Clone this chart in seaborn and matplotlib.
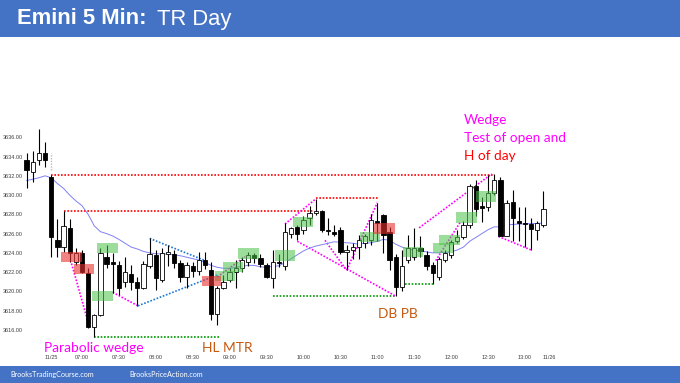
import matplotlib
matplotlib.use("Agg")
import matplotlib.pyplot as plt
from matplotlib.patches import Rectangle
import seaborn as sns
import numpy as np
import pandas as pd

# bar 0 = 06:35 bar of 11/25, negative bars = end of the previous session
bar_idx = list(range(-4, 81))
opens = [3633.6, 3632.4, 3633.6, 3634.4,
         3631.85, 3625.3, 3624.6, 3626.6, 3623.1, 3623.95, 3621.9, 3616.3, 3617.55, 3623.6,
         3623.0, 3622.7, 3621.0, 3621.8, 3621.0, 3620.3, 3622.6, 3623.8, 3621.2, 3623.9,
         3623.9, 3622.9, 3621.5, 3622.6, 3622.1, 3623.3, 3622.2, 3617.6, 3620.3, 3621.2,
         3622.05, 3622.4, 3623.1, 3623.8, 3623.5, 3622.7, 3621.4, 3623.1, 3622.6, 3626.0,
         3626.7, 3626.4, 3627.6, 3628.1, 3628.3, 3626.4, 3626.2, 3626.4, 3624.1, 3624.3,
         3624.6, 3625.0, 3625.3, 3627.3, 3627.9, 3626.2, 3623.6, 3620.5, 3623.3, 3623.6,
         3624.5, 3623.8, 3622.7, 3621.5, 3623.3, 3623.8, 3625.2, 3625.6, 3626.9, 3630.9,
         3628.9, 3628.8, 3630.2, 3631.6, 3625.75, 3629.3, 3627.3, 3627.1, 3627.0, 3626.4, 3626.9]
highs = [3634.4, 3634.6, 3636.9, 3635.5,
         3632.1, 3627.5, 3628.3, 3627.5, 3624.5, 3624.3, 3622.4, 3617.6, 3624.5, 3624.8,
         3623.95, 3623.2, 3623.6, 3622.7, 3621.5, 3623.2, 3625.5, 3624.3, 3624.5, 3624.8,
         3624.3, 3623.3, 3623.1, 3623.0, 3624.1, 3624.1, 3623.0, 3620.6, 3621.7, 3622.4,
         3623.3, 3623.6, 3624.1, 3624.0, 3623.9, 3622.9, 3624.3, 3623.9, 3627.1, 3626.7,
         3626.9, 3627.8, 3628.9, 3629.6, 3628.4, 3627.6, 3626.9, 3626.7, 3624.8, 3625.0,
         3625.9, 3626.0, 3628.0, 3629.2, 3628.0, 3626.7, 3623.9, 3624.3, 3625.9, 3626.6,
         3625.7, 3624.2, 3623.0, 3623.6, 3624.3, 3625.3, 3626.4, 3627.3, 3631.1, 3631.6,
         3629.8, 3632.1, 3632.2, 3631.9, 3629.5, 3630.5, 3628.8, 3628.8, 3627.6, 3627.3, 3630.4]
lows = [3630.7, 3631.4, 3633.1, 3632.9,
        3623.6, 3623.6, 3624.1, 3623.0, 3622.7, 3621.9, 3616.2, 3615.3, 3617.4, 3622.4,
        3619.8, 3619.6, 3620.5, 3620.1, 3618.5, 3620.2, 3622.4, 3620.1, 3621.0, 3622.6,
        3622.4, 3621.0, 3620.3, 3621.5, 3621.7, 3622.3, 3617.0, 3616.5, 3620.2, 3621.0,
        3620.3, 3622.0, 3622.6, 3622.9, 3622.5, 3621.4, 3620.3, 3622.5, 3622.2, 3625.5,
        3625.3, 3626.0, 3626.9, 3627.9, 3626.2, 3625.9, 3625.7, 3623.9, 3622.2, 3623.4,
        3623.4, 3624.5, 3624.8, 3625.2, 3624.0, 3622.2, 3619.5, 3620.0, 3622.9, 3623.3,
        3623.6, 3622.2, 3620.8, 3621.2, 3623.0, 3623.5, 3625.0, 3625.4, 3626.6, 3627.8,
        3627.2, 3628.3, 3630.0, 3625.7, 3625.7, 3625.2, 3625.2, 3624.6, 3624.3, 3625.3, 3626.7]
closes = [3632.6, 3633.4, 3634.4, 3633.6,
          3625.6, 3624.6, 3626.8, 3624.0, 3624.0, 3622.0, 3616.3, 3617.55, 3623.95, 3622.8,
          3622.85, 3620.3, 3622.0, 3621.0, 3620.3, 3622.8, 3623.85, 3621.4, 3624.0, 3624.1,
          3622.9, 3621.5, 3622.7, 3622.1, 3623.3, 3622.7, 3617.6, 3620.3, 3621.0, 3622.05,
          3622.4, 3623.3, 3623.8, 3623.5, 3622.8, 3621.5, 3623.1, 3622.9, 3626.2, 3626.55,
          3626.0, 3627.4, 3628.1, 3628.3, 3626.4, 3626.3, 3626.0, 3624.1, 3624.3, 3624.6,
          3625.3, 3625.7, 3627.4, 3627.1, 3625.9, 3623.3, 3620.5, 3622.6, 3624.5, 3624.5,
          3624.2, 3622.6, 3621.9, 3623.4, 3624.0, 3625.1, 3625.6, 3626.9, 3630.9, 3628.6,
          3628.7, 3630.2, 3631.6, 3625.75, 3629.2, 3627.6, 3627.1, 3627.0, 3626.5, 3627.1, 3628.6]
ema20 = [3631.5, 3631.65, 3631.8, 3632.0,
         3631.8, 3631.2, 3630.7, 3630.0, 3629.4, 3628.9, 3628.0, 3626.8, 3626.2, 3626.0,
         3625.75, 3625.4, 3625.0, 3624.6, 3624.4, 3624.15, 3624.0, 3623.9, 3623.9, 3623.85,
         3623.8, 3623.7, 3623.55, 3623.4, 3623.25, 3623.0, 3622.7, 3622.5, 3622.4, 3622.4,
         3622.5, 3622.6, 3622.7, 3622.7, 3622.55, 3622.5, 3622.6, 3622.65, 3623.0, 3623.4,
         3623.8, 3624.2, 3624.5, 3624.7, 3624.85, 3625.0, 3625.15, 3625.1, 3625.05, 3625.0,
         3624.9, 3625.0, 3625.05, 3625.2, 3625.4, 3625.3, 3624.9, 3624.6, 3624.4, 3624.3,
         3624.2, 3624.1, 3624.0, 3624.0, 3624.05, 3624.1, 3624.3, 3624.6, 3625.2, 3625.6,
         3626.0, 3626.4, 3626.7, 3626.7, 3626.9, 3626.95, 3627.0, 3627.0, 3627.05, 3627.05, 3627.1]

y_ticks = [3616, 3618, 3620, 3622, 3624, 3626, 3628, 3630, 3632, 3634, 3636]
y_tick_labels = [f"{v}.00" for v in y_ticks]
x_tick_bars = [0, 5, 11, 17, 23, 29, 35, 41, 47, 53, 59, 65, 71, 77, 81]
x_tick_labels = ["11/25", "07:00", "07:30", "08:00", "08:30", "09:00", "09:30", "10:00",
                 "10:30", "11:00", "11:30", "12:00", "12:30", "13:00", "11/26"]

# annotation lines: (from bar, to bar, price) for flat levels, ((bar, price), (bar, price)) for slopes
red_levels = [(0, 72, 3632.1), (2, 42.6, 3628.3), (43, 53.3, 3629.67)]
green_levels = [(7, 27.5, 3615.3), (36, 56, 3619.5), (57.5, 62, 3620.8)]
magenta_lines = [((3.3, 3622.9), (6.0, 3616.8)), ((10, 3619.9), (14.1, 3618.5)),
                 ((27, 3621.5), (31.5, 3623.6)), ((38, 3627.0), (43, 3629.6)),
                 ((40, 3625.2), (56, 3619.5)), ((44.5, 3625.3), (48, 3622.2)),
                 ((48, 3622.2), (53, 3629.2)), ((59.8, 3626.6), (71.6, 3632.2)),
                 ((62.5, 3623.2), (66.5, 3627.2)), ((72.7, 3625.7), (78, 3624.3))]
blue_lines = [((16, 3625.5), (25, 3623.2)), ((14.1, 3618.5), (27, 3621.7))]
# highlight boxes: (from bar, to bar, low price, high price)
green_boxes = [(7.5, 10.9, 3623.95, 3625.0), (6.6, 10.0, 3619.0, 3620.0),
               (26.6, 29.8, 3621.1, 3622.1), (28.0, 31.2, 3622.05, 3623.1),
               (30.4, 33.7, 3623.4, 3624.5), (36.4, 39.6, 3623.2, 3624.3),
               (39.3, 42.6, 3626.7, 3627.7), (50.2, 53.4, 3625.15, 3626.2),
               (57.1, 60.5, 3623.55, 3624.65), (62.0, 65.3, 3624.0, 3625.0),
               (63.0, 66.4, 3624.8, 3625.9), (65.8, 69.2, 3627.1, 3628.2),
               (69.0, 72.3, 3629.3, 3630.4)]
red_boxes = [(1.6, 5.0, 3623.0, 3624.1), (3.7, 7.0, 3621.8, 3622.8),
             (24.5, 27.6, 3620.6, 3621.6), (52.5, 55.9, 3626.0, 3627.1)]

df = pd.DataFrame({"bar": bar_idx, "open": opens, "high": highs,
                   "low": lows, "close": closes, "ema": ema20})

W, H = 680, 383
def fx(x):
    return x / W
def fy(y):
    return 1 - y / H

sns.set_style("white")
plt.rcParams["font.family"] = ["Liberation Sans", "DejaVu Sans"]

fig = plt.figure(figsize=(6.8, 3.83), dpi=100)

# pixel scale of the reference: bar 0 at x=51.2, 3636 at y=137.3
X0, DX = 51.2, 6.153
Y0, DY = 137.3, 9.63
ax_l, ax_r, ax_t, ax_b = 24, 600, 110, 350
ax = fig.add_axes([fx(ax_l), fy(ax_b), (ax_r - ax_l) / W, (ax_b - ax_t) / H])

# levels and trend lines (behind the candles)
for a, b, p in red_levels:
    ax.plot([a, b], [p, p], color="#FF0000", ls=(0, (1, 1)), lw=1.2, zorder=1)
for a, b, p in green_levels:
    ax.plot([a, b], [p, p], color="#009A00", ls=(0, (1, 1)), lw=1.2, zorder=1)
for (a, pa), (b, pb) in magenta_lines:
    ax.plot([a, b], [pa, pb], color="#FF00FF", ls=(0, (1, 1)), lw=1.2, zorder=1)
for (a, pa), (b, pb) in blue_lines:
    ax.plot([a, b], [pa, pb], color="#1F78D1", ls=(0, (1, 1)), lw=1.2, zorder=1)
ax.vlines(0, 3632.6, 3634.4, color="#BBBBBB", ls=(0, (1, 1)), lw=1.0, zorder=1)

sns.lineplot(data=df, x="bar", y="ema", ax=ax, color="#8080F4", lw=0.7, zorder=2)

# candles
up = df["close"] >= df["open"]
ax.vlines(df["bar"], df["low"], df["high"], color="black", lw=0.8, zorder=3)
body_lo = df[["open", "close"]].min(axis=1)
body_h = (df["close"] - df["open"]).abs().clip(lower=0.07)
ax.bar(df["bar"], body_h, bottom=body_lo, width=0.7,
       color=np.where(up, "white", "black"), edgecolor="black", linewidth=0.6, zorder=4)

for a, b, lo, hi in green_boxes:
    ax.add_patch(Rectangle((a, lo), b - a, hi - lo, facecolor="#4CC24C", alpha=0.55, lw=0, zorder=5))
for a, b, lo, hi in red_boxes:
    ax.add_patch(Rectangle((a, lo), b - a, hi - lo, facecolor="#E83030", alpha=0.6, lw=0, zorder=5))

ax.set_xlim((ax_l - X0) / DX, (ax_r - X0) / DX)
ax.set_ylim(3636 - (ax_b - Y0) / DY, 3636 + (Y0 - ax_t) / DY)
ax.set_xlabel("")
ax.set_ylabel("")
ax.set_yticks(y_ticks)
ax.set_yticklabels(y_tick_labels)
ax.set_xticks(x_tick_bars)
ax.set_xticklabels(x_tick_labels)
ax.tick_params(axis="y", length=0, pad=1, labelsize=4, labelcolor="#404040")
ax.tick_params(axis="x", length=0, pad=3.5, labelsize=4, labelcolor="#404040")
ax.grid(False)
sns.despine(ax=ax, left=True, bottom=True)

# header and footer bands
fig.patches.append(Rectangle((0, fy(37)), 1, 37 / H, transform=fig.transFigure,
                             facecolor="#4472C4", lw=0, zorder=0))
fig.patches.append(Rectangle((0, 0), 1, 17 / H, transform=fig.transFigure,
                             facecolor="#4472C4", lw=0, zorder=0))
fig.text(fx(17), fy(19), "Emini 5 Min:", color="white", fontsize=15.8,
         fontweight="bold", va="center", ha="left")
fig.text(fx(157), fy(19), "TR Day", color="white", fontsize=15.8, va="center", ha="left")
fig.text(fx(10), fy(374.5), "BrooksTradingCourse.com", color="white", fontsize=5.2,
         family=["Lato", "DejaVu Sans"], va="center", ha="left")
fig.text(fx(129), fy(374.5), "BrooksPriceAction.com", color="white", fontsize=5.2,
         family=["Lato", "DejaVu Sans"], va="center", ha="left")

# chart labels
note_font = ["Lato", "DejaVu Sans"]
fig.text(fx(44), fy(348.5), "Parabolic wedge", color="#FF00FF", fontsize=9.9,
         family=note_font, va="center", ha="left")
fig.text(fx(202.5), fy(348.5), "HL MTR", color="#C55A11", fontsize=9.9,
         family=note_font, va="center", ha="left")
fig.text(fx(378), fy(313.5), "DB PB", color="#C55A11", fontsize=9.9,
         family=note_font, va="center", ha="left")
fig.text(fx(464), fy(120.5), "Wedge", color="#FF00FF", fontsize=9.8,
         family=note_font, va="center", ha="left")
fig.text(fx(464), fy(138.5), "Test of open and", color="#FF00FF", fontsize=9.8,
         family=note_font, va="center", ha="left")
fig.text(fx(464), fy(156.5), "H of day", color="#FF0000", fontsize=9.8,
         family=note_font, va="center", ha="left")

fig.savefig("out.png", dpi=100)
